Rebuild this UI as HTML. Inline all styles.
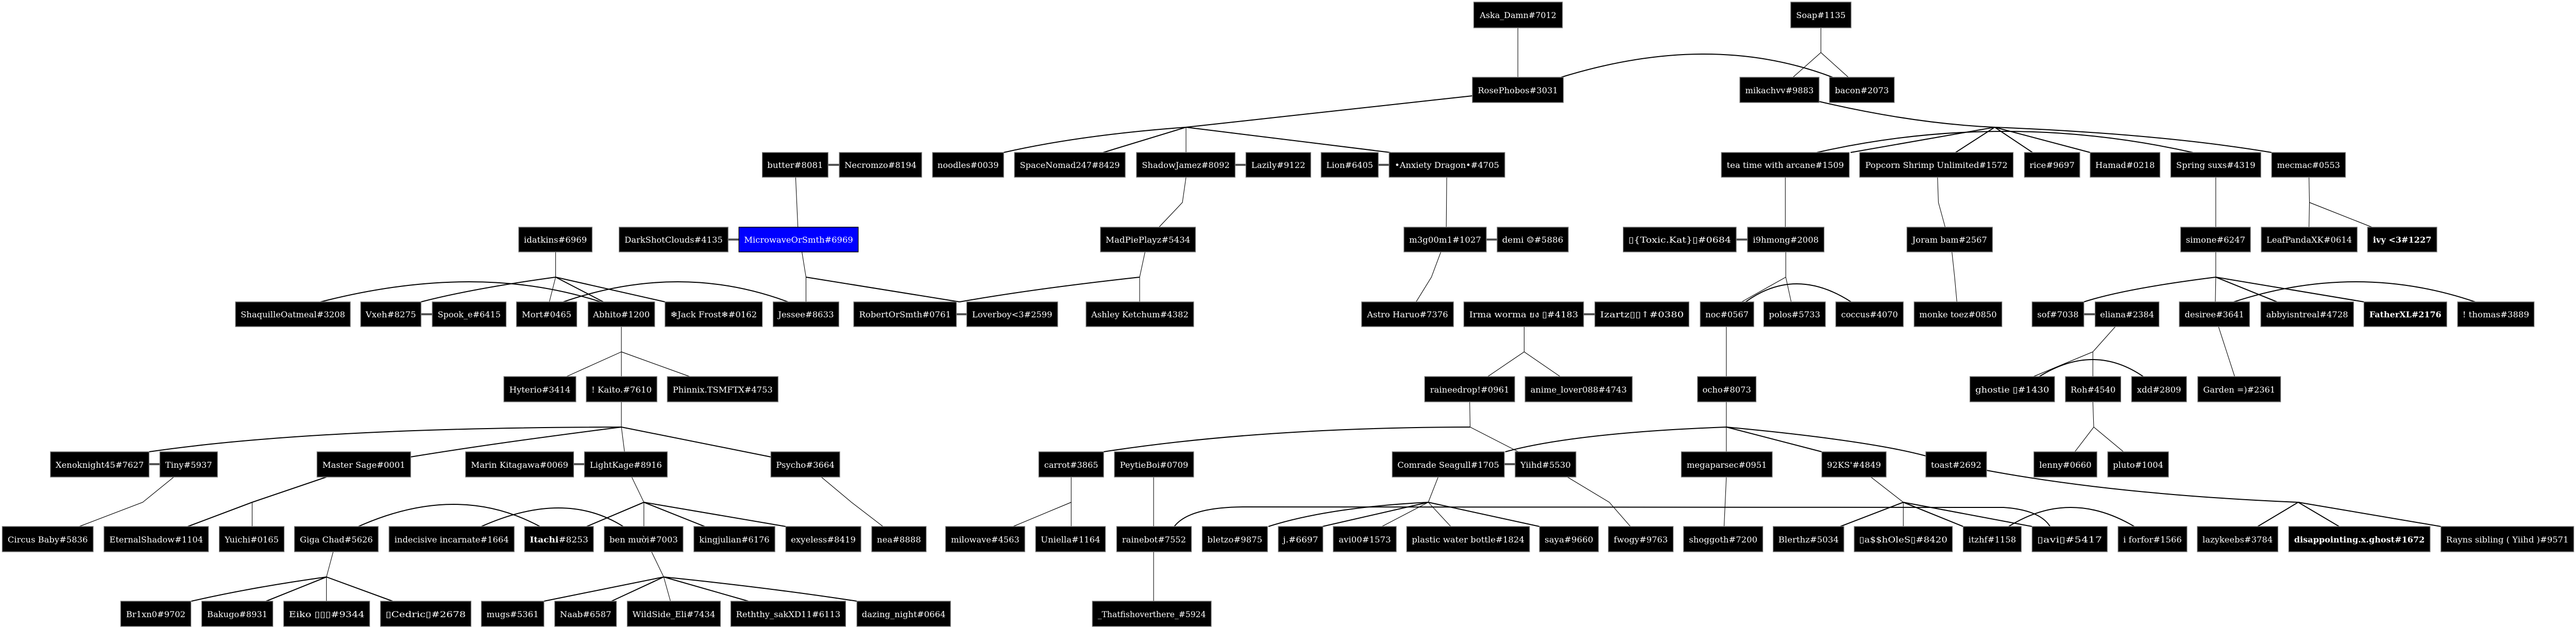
<!DOCTYPE html>
<html><head><meta charset="utf-8"><style>
html,body{margin:0;padding:0;background:#fff;width:100%;height:100%;overflow:hidden;}
svg{display:block;width:100vw;height:100vh;}
text{font-family:"DejaVu Serif","Liberation Serif","Noto Sans CJK SC",serif;font-size:16px;fill:#fff;}
.n{fill:#000;stroke:#777;stroke-width:1.5;}
.b{fill:#0000ff;stroke:#000;stroke-width:1.5;}
.e{fill:none;stroke:#000;stroke-width:2;}
.t{fill:none;stroke:#000;stroke-width:1.2;}
.s{stroke:#555;stroke-width:4;}
</style></head><body>
<svg viewBox="0 0 5721 1221" preserveAspectRatio="none" xmlns="http://www.w3.org/2000/svg">
<path class="t" d="M3371,54 L3371,150"/>
<path class="t" d="M4044,54 L4044,102 L3982,150 M4044,102 L4105,150"/>
<path class="e" d="M3467,150 Q3800,60 4070,150"/>
<path class="e" d="M3270,186 L2634,247 Q2400,262 2229,296 M2634,247 L2450,296 M2634,247 L3088,296"/>
<path class="t" d="M2634,247 L2634,296"/>
<path class="e" d="M4040,197 Q4250,240 4430,247 L4110,296 M4430,247 L4343,296 M4430,247 L4514,296 M4430,247 L4642,296 M4430,247 Q4800,260 5045,296"/>
<path class="e" d="M4035,296 Q4450,214 4870,296"/>
<path class="t" d="M2634,344 L2626,393 L2574,441 M3213,344 L3212,441 M3965,344 L3965,441 M4303,344 L4305,393 L4320,441 M4921,344 L4921,441 M5128,344 L5129,393 L5128,441 M5129,393 L5268,441 M1767,344 L1772,441"/>
<path class="t" d="M1234,489 L1234,538 L1220,586"/>
<path class="e" d="M1234,538 Q1050,560 935,586 M1234,538 L1340,586 M1234,538 L1477,586"/>
<path class="e" d="M712,586 Q1060,508 1334,586 M1251,586 Q1510,508 1750,586"/>
<path class="t" d="M1781,489 L1790,538 L1790,586"/>
<path class="e" d="M1790,538 L2131,586"/>
<path class="t" d="M2543,489 L2531,538 L2531,586"/>
<path class="e" d="M2531,538 Q2300,560 2131,586"/>
<path class="t" d="M3200,489 L3179,538 L3145,586"/>
<path class="t" d="M3966,489 L3966,538 L3868,586 M3966,538 L3978,586"/>
<path class="e" d="M3877,586 Q3987,516 4111,586"/>
<path class="t" d="M4335,489 L4341,538 L4346,586"/>
<path class="t" d="M4921,489 L4921,538 L4920,586"/>
<path class="e" d="M4921,538 Q4720,560 4628,586 M4921,538 L5057,586 M4921,538 L5250,586 M4961,586 Q5235,508 5497,586"/>
<path class="t" d="M1380,634 L1380,683 L1258,731 M1380,683 L1380,731 M1380,683 L1532,731"/>
<path class="t" d="M3385,634 L3385,683 L3304,731 M3385,683 L3465,731"/>
<path class="t" d="M3834,634 L3834,731 M4927,634 L4963,731"/>
<path class="t" d="M4698,634 L4648,683 L4516,731 M4648,683 L4648,731"/>
<path class="e" d="M4529,731 Q4650,665 4760,731"/>
<path class="t" d="M1380,780 L1380,829 L1387,877"/>
<path class="e" d="M1380,829 Q700,830 331,877 M1380,829 Q1100,860 912,887 M1380,829 L1712,887"/>
<path class="t" d="M386,926 L317,975 L176,1022"/>
<path class="e" d="M725,926 L560,975 L417,1022"/>
<path class="t" d="M560,975 L560,1022"/>
<path class="t" d="M1403,926 L1430,975 L1430,1022"/>
<path class="e" d="M1430,975 L1303,1022 M1430,975 L1565,1022 M1430,975 Q1600,1000 1745,1022"/>
<path class="t" d="M1824,926 L1891,975 L1961,1022"/>
<path class="e" d="M796,1022 Q1017,936 1199,1022 M1069,1022 Q1254,950 1384,1022"/>
<path class="t" d="M740,1071 L725,1120 L725,1167"/>
<path class="e" d="M725,1120 Q560,1140 425,1167 M725,1120 L591,1167 M725,1120 L872,1167"/>
<path class="t" d="M1447,1071 L1474,1120 L1489,1167"/>
<path class="e" d="M1474,1120 L1208,1167 M1474,1120 L1358,1167 M1474,1120 L1662,1167 M1474,1120 Q1700,1140 1903,1167"/>
<path class="t" d="M2379,926 L2379,1022 M2379,975 L2250,1022 M2562,926 L2562,1022 M2562,1071 L2562,1167"/>
<path class="t" d="M3264,780 L3265,829 L3372,877"/>
<path class="e" d="M3265,829 Q2800,830 2451,877"/>
<path class="t" d="M3834,780 L3834,877"/>
<path class="e" d="M3834,829 Q3500,840 3343,877 M3834,829 L4046,877 M3834,829 Q4150,855 4277,885"/>
<path class="t" d="M3194,926 L3172,975 L3069,1022 M3172,975 L3222,1022"/>
<path class="e" d="M3172,975 Q2950,985 2817,1022 M3172,975 L2937,1022 M3172,975 L3419,1022"/>
<path class="e" d="M2608,1022 Q2640,985 2760,984 L4450,985 Q4530,990 4553,1022"/>
<path class="t" d="M3481,926 L3574,975 L3621,1022 M3834,926 L3829,1022"/>
<path class="t" d="M4155,926 L4227,975 L4227,1022"/>
<path class="e" d="M4227,975 L4087,1022 M4227,975 L4360,1022 M4227,975 L4513,1022"/>
<path class="e" d="M4461,1022 Q4597,948 4740,1022"/>
<path class="e" d="M4412,913 Q4700,960 5104,975 L5014,1022 M5104,975 L5195,1022 M5104,975 L5421,1022"/>
<path class="t" d="M4648,780 L4650,829 L4608,877 M4650,829 L4716,877"/>
<path class="s" d="M1839,320H1864 M2743,320H2767 M3061,320H3085 M1617,465H1641 M3301,465H3325 M3856,465H3881 M935,610H960 M2124,610H2147 M3517,610H3542 M4628,610H4653 M331,901H355 M1274,901H1298 M3341,901H3365"/>
<g>
<rect class="n" x="3273" y="4" width="197" height="50"/><text x="3371.5" y="35" text-anchor="middle" textLength="170" lengthAdjust="spacingAndGlyphs">Aska_Damn#7012</text>
<rect class="n" x="3977" y="4" width="134" height="50"/><text x="4044" y="35" text-anchor="middle" textLength="110" lengthAdjust="spacingAndGlyphs">Soap#1135</text>

<rect class="n" x="3270" y="150" width="202" height="49"/><text x="3371" y="181" text-anchor="middle" textLength="178" lengthAdjust="spacingAndGlyphs">RosePhobos#3031</text>
<rect class="n" x="3864" y="150" width="176" height="49"/><text x="3952" y="181" text-anchor="middle" textLength="152" lengthAdjust="spacingAndGlyphs">mikachvv#9883</text>
<rect class="n" x="4063" y="150" width="144" height="49"/><text x="4135" y="181" text-anchor="middle" textLength="120" lengthAdjust="spacingAndGlyphs">bacon#2073</text>

<rect class="n" x="1693" y="296" width="146" height="48"/><text x="1766" y="326" text-anchor="middle" textLength="124" lengthAdjust="spacingAndGlyphs">butter#8081</text>
<rect class="n" x="1864" y="296" width="183" height="48"/><text x="1955.5" y="326" text-anchor="middle" textLength="160" lengthAdjust="spacingAndGlyphs">Necromzo#8194</text>
<rect class="n" x="2071" y="296" width="158" height="48"/><text x="2150" y="326" text-anchor="middle" textLength="136" lengthAdjust="spacingAndGlyphs">noodles#0039</text>
<rect class="n" x="2253" y="296" width="246" height="48"/><text x="2376" y="326" text-anchor="middle" textLength="222" lengthAdjust="spacingAndGlyphs">SpaceNomad247#8429</text>
<rect class="n" x="2524" y="296" width="219" height="48"/><text x="2633.5" y="326" text-anchor="middle" textLength="195" lengthAdjust="spacingAndGlyphs">ShadowJamez#8092</text>
<rect class="n" x="2767" y="296" width="144" height="48"/><text x="2839" y="326" text-anchor="middle" textLength="120" lengthAdjust="spacingAndGlyphs">Lazily#9122</text>
<rect class="n" x="2934" y="296" width="127" height="48"/><text x="2997.5" y="326" text-anchor="middle" textLength="104" lengthAdjust="spacingAndGlyphs">Lion#6405</text>
<rect class="n" x="3085" y="296" width="257" height="48"/><text x="3213.5" y="326" text-anchor="middle" textLength="232" lengthAdjust="spacingAndGlyphs">•Anxiety Dragon•#4705</text>
<rect class="n" x="3823" y="296" width="284" height="48"/><text x="3965" y="326" text-anchor="middle" textLength="260" lengthAdjust="spacingAndGlyphs">tea time with arcane#1509</text>
<rect class="n" x="4130" y="296" width="341" height="48"/><text x="4300.5" y="326" text-anchor="middle" textLength="316" lengthAdjust="spacingAndGlyphs">Popcorn Shrimp Unlimited#1572</text>
<rect class="n" x="4496" y="296" width="123" height="48"/><text x="4557.5" y="326" text-anchor="middle" textLength="100" lengthAdjust="spacingAndGlyphs">rice#9697</text>
<rect class="n" x="4642" y="296" width="155" height="48"/><text x="4719.5" y="326" text-anchor="middle" textLength="132" lengthAdjust="spacingAndGlyphs">Hamad#0218</text>
<rect class="n" x="4821" y="296" width="200" height="48"/><text x="4921" y="326" text-anchor="middle" textLength="176" lengthAdjust="spacingAndGlyphs">Spring suxs#4319</text>
<rect class="n" x="5045" y="296" width="164" height="48"/><text x="5127" y="326" text-anchor="middle" textLength="140" lengthAdjust="spacingAndGlyphs">mecmac#0553</text>

<rect class="n" x="1152" y="441" width="163" height="48"/><text x="1233.5" y="471" text-anchor="middle" textLength="140" lengthAdjust="spacingAndGlyphs">idatkins#6969</text>
<rect class="n" x="1375" y="441" width="242" height="48"/><text x="1496" y="471" text-anchor="middle" textLength="218" lengthAdjust="spacingAndGlyphs">DarkShotClouds#4135</text>
<rect class="b" x="1641" y="441" width="265" height="48"/><text x="1773.5" y="471" text-anchor="middle" textLength="242" lengthAdjust="spacingAndGlyphs">MicrowaveOrSmth#6969</text>
<rect class="n" x="2444" y="441" width="211" height="48"/><text x="2549.5" y="471" text-anchor="middle" textLength="188" lengthAdjust="spacingAndGlyphs">MadPiePlayz#5434</text>
<rect class="n" x="3118" y="441" width="183" height="48"/><text x="3209.5" y="471" text-anchor="middle" textLength="160" lengthAdjust="spacingAndGlyphs">m3g00m1#1027</text>
<rect class="n" x="3325" y="441" width="158" height="48"/><text x="3404" y="471" text-anchor="middle" textLength="136" lengthAdjust="spacingAndGlyphs">demi ☺#5886</text>
<rect class="n" x="3605" y="441" width="251" height="48"/><text x="3730.5" y="471" text-anchor="middle" textLength="228" lengthAdjust="spacingAndGlyphs">▯{Toxic.Kat}▯#0684</text>
<rect class="n" x="3881" y="441" width="170" height="48"/><text x="3966" y="471" text-anchor="middle" textLength="146" lengthAdjust="spacingAndGlyphs">i9hmong#2008</text>
<rect class="n" x="4235" y="441" width="190" height="48"/><text x="4330" y="471" text-anchor="middle" textLength="166" lengthAdjust="spacingAndGlyphs">Joram bam#2567</text>
<rect class="n" x="4843" y="441" width="155" height="48"/><text x="4920.5" y="471" text-anchor="middle" textLength="132" lengthAdjust="spacingAndGlyphs">simone#6247</text>
<rect class="n" x="5022" y="441" width="213" height="48"/><text x="5128.5" y="471" text-anchor="middle" textLength="190" lengthAdjust="spacingAndGlyphs">LeafPandaXK#0614</text>
<rect class="n" x="5258" y="441" width="154" height="48"/><text x="5335" y="471" text-anchor="middle" textLength="130" lengthAdjust="spacingAndGlyphs" font-weight="bold">ivy &lt;3#1227</text>

<rect class="n" x="523" y="586" width="255" height="48"/><text x="650.5" y="616" text-anchor="middle" textLength="232" lengthAdjust="spacingAndGlyphs">ShaquilleOatmeal#3208</text>
<rect class="n" x="801" y="586" width="134" height="48"/><text x="868" y="616" text-anchor="middle" textLength="112" lengthAdjust="spacingAndGlyphs">Vxeh#8275</text>
<rect class="n" x="960" y="586" width="164" height="48"/><text x="1042" y="616" text-anchor="middle" textLength="140" lengthAdjust="spacingAndGlyphs">Spook_e#6415</text>
<rect class="n" x="1147" y="586" width="134" height="48"/><text x="1214" y="616" text-anchor="middle" textLength="110" lengthAdjust="spacingAndGlyphs">Mort#0465</text>
<rect class="n" x="1306" y="586" width="148" height="48"/><text x="1380" y="616" text-anchor="middle" textLength="126" lengthAdjust="spacingAndGlyphs">Abhito#1200</text>
<rect class="n" x="1477" y="586" width="216" height="48"/><text x="1585" y="616" text-anchor="middle" textLength="192" lengthAdjust="spacingAndGlyphs">❄Jack Frost❄#0162</text>
<rect class="n" x="1717" y="586" width="146" height="48"/><text x="1790" y="616" text-anchor="middle" textLength="124" lengthAdjust="spacingAndGlyphs">Jessee#8633</text>
<rect class="n" x="1896" y="586" width="228" height="48"/><text x="2010" y="616" text-anchor="middle" textLength="204" lengthAdjust="spacingAndGlyphs">RobertOrSmth#0761</text>
<rect class="n" x="2147" y="586" width="202" height="48"/><text x="2248" y="616" text-anchor="middle" textLength="178" lengthAdjust="spacingAndGlyphs">Loverboy&lt;3#2599</text>
<rect class="n" x="2412" y="586" width="239" height="48"/><text x="2531.5" y="616" text-anchor="middle" textLength="216" lengthAdjust="spacingAndGlyphs">Ashley Ketchum#4382</text>
<rect class="n" x="3024" y="586" width="204" height="48"/><text x="3126" y="616" text-anchor="middle" textLength="180" lengthAdjust="spacingAndGlyphs">Astro Haruo#7376</text>
<rect class="n" x="3251" y="586" width="266" height="48"/><text x="3384" y="616" text-anchor="middle" textLength="242" lengthAdjust="spacingAndGlyphs">Irma worma ยง ▯#4183</text>
<rect class="n" x="3542" y="586" width="209" height="48"/><text x="3646.5" y="616" text-anchor="middle" textLength="186" lengthAdjust="spacingAndGlyphs">Izartz▯▯↑#0380</text>
<rect class="n" x="3776" y="586" width="119" height="48"/><text x="3835.5" y="616" text-anchor="middle" textLength="96" lengthAdjust="spacingAndGlyphs">noc#0567</text>
<rect class="n" x="3917" y="586" width="137" height="48"/><text x="3985.5" y="616" text-anchor="middle" textLength="114" lengthAdjust="spacingAndGlyphs">polos#5733</text>
<rect class="n" x="4077" y="586" width="150" height="48"/><text x="4152" y="616" text-anchor="middle" textLength="126" lengthAdjust="spacingAndGlyphs">coccus#4070</text>
<rect class="n" x="4251" y="586" width="195" height="48"/><text x="4348.5" y="616" text-anchor="middle" textLength="172" lengthAdjust="spacingAndGlyphs">monke toez#0850</text>
<rect class="n" x="4513" y="586" width="115" height="48"/><text x="4570.5" y="616" text-anchor="middle" textLength="92" lengthAdjust="spacingAndGlyphs">sof#7038</text>
<rect class="n" x="4653" y="586" width="142" height="48"/><text x="4724" y="616" text-anchor="middle" textLength="120" lengthAdjust="spacingAndGlyphs">eliana#2384</text>
<rect class="n" x="4840" y="586" width="156" height="48"/><text x="4918" y="616" text-anchor="middle" textLength="132" lengthAdjust="spacingAndGlyphs">desiree#3641</text>
<rect class="n" x="5021" y="586" width="206" height="48"/><text x="5124" y="616" text-anchor="middle" textLength="182" lengthAdjust="spacingAndGlyphs">abbyisntreal#4728</text>
<rect class="n" x="5250" y="586" width="184" height="48"/><text x="5342" y="616" text-anchor="middle" textLength="160" lengthAdjust="spacingAndGlyphs" font-weight="bold">FatherXL#2176</text>
<rect class="n" x="5458" y="586" width="170" height="48"/><text x="5543" y="616" text-anchor="middle" textLength="148" lengthAdjust="spacingAndGlyphs">! thomas#3889</text>

<rect class="n" x="1119" y="731" width="160" height="49"/><text x="1199" y="762" text-anchor="middle" textLength="136" lengthAdjust="spacingAndGlyphs">Hyterio#3414</text>
<rect class="n" x="1302" y="731" width="157" height="49"/><text x="1380.5" y="762" text-anchor="middle" textLength="134" lengthAdjust="spacingAndGlyphs">! Kaito.#7610</text>
<rect class="n" x="1482" y="731" width="246" height="49"/><text x="1605" y="762" text-anchor="middle" textLength="222" lengthAdjust="spacingAndGlyphs">Phinnix.TSMFTX#4753</text>
<rect class="n" x="3164" y="731" width="200" height="49"/><text x="3264" y="762" text-anchor="middle" textLength="176" lengthAdjust="spacingAndGlyphs">raineedrop!#0961</text>
<rect class="n" x="3387" y="731" width="238" height="49"/><text x="3506" y="762" text-anchor="middle" textLength="214" lengthAdjust="spacingAndGlyphs">anime_lover088#4743</text>
<rect class="n" x="3770" y="731" width="130" height="49"/><text x="3835" y="762" text-anchor="middle" textLength="108" lengthAdjust="spacingAndGlyphs">ocho#8073</text>
<rect class="n" x="4375" y="731" width="188" height="49"/><text x="4469" y="762" text-anchor="middle" textLength="164" lengthAdjust="spacingAndGlyphs">ghostie ▯#1430</text>
<rect class="n" x="4587" y="731" width="123" height="49"/><text x="4648.5" y="762" text-anchor="middle" textLength="100" lengthAdjust="spacingAndGlyphs">Roh#4540</text>
<rect class="n" x="4734" y="731" width="122" height="49"/><text x="4795" y="762" text-anchor="middle" textLength="98" lengthAdjust="spacingAndGlyphs">xdd#2809</text>
<rect class="n" x="4881" y="731" width="184" height="49"/><text x="4973" y="762" text-anchor="middle" textLength="160" lengthAdjust="spacingAndGlyphs">Garden =)#2361</text>

<rect class="n" x="112" y="877" width="219" height="49"/><text x="221.5" y="908" text-anchor="middle" textLength="196" lengthAdjust="spacingAndGlyphs">Xenoknight45#7627</text>
<rect class="n" x="355" y="877" width="128" height="49"/><text x="419" y="908" text-anchor="middle" textLength="104" lengthAdjust="spacingAndGlyphs">Tiny#5937</text>
<rect class="n" x="704" y="877" width="208" height="49"/><text x="808" y="908" text-anchor="middle" textLength="184" lengthAdjust="spacingAndGlyphs">Master Sage#0001</text>
<rect class="n" x="1034" y="877" width="240" height="49"/><text x="1154" y="908" text-anchor="middle" textLength="216" lengthAdjust="spacingAndGlyphs">Marin Kitagawa#0069</text>
<rect class="n" x="1298" y="877" width="184" height="49"/><text x="1390" y="908" text-anchor="middle" textLength="160" lengthAdjust="spacingAndGlyphs">LightKage#8916</text>
<rect class="n" x="1712" y="877" width="153" height="49"/><text x="1788.5" y="908" text-anchor="middle" textLength="130" lengthAdjust="spacingAndGlyphs">Psycho#3664</text>
<rect class="n" x="2307" y="877" width="144" height="49"/><text x="2379" y="908" text-anchor="middle" textLength="120" lengthAdjust="spacingAndGlyphs">carrot#3865</text>
<rect class="n" x="2475" y="877" width="176" height="49"/><text x="2563" y="908" text-anchor="middle" textLength="152" lengthAdjust="spacingAndGlyphs">PeytieBoi#0709</text>
<rect class="n" x="3092" y="877" width="249" height="49"/><text x="3216.5" y="908" text-anchor="middle" textLength="226" lengthAdjust="spacingAndGlyphs">Comrade Seagull#1705</text>
<rect class="n" x="3365" y="877" width="135" height="49"/><text x="3432.5" y="908" text-anchor="middle" textLength="112" lengthAdjust="spacingAndGlyphs">Yiihd#5530</text>
<rect class="n" x="3734" y="877" width="202" height="49"/><text x="3835" y="908" text-anchor="middle" textLength="178" lengthAdjust="spacingAndGlyphs">megaparsec#0951</text>
<rect class="n" x="4046" y="877" width="143" height="49"/><text x="4117.5" y="908" text-anchor="middle" textLength="120" lengthAdjust="spacingAndGlyphs">92KS'#4849</text>
<rect class="n" x="4277" y="877" width="135" height="49"/><text x="4344.5" y="908" text-anchor="middle" textLength="112" lengthAdjust="spacingAndGlyphs">toast#2692</text>
<rect class="n" x="4517" y="877" width="140" height="49"/><text x="4587" y="908" text-anchor="middle" textLength="116" lengthAdjust="spacingAndGlyphs">lenny#0660</text>
<rect class="n" x="4681" y="877" width="135" height="49"/><text x="4748.5" y="908" text-anchor="middle" textLength="112" lengthAdjust="spacingAndGlyphs">pluto#1004</text>

<rect class="n" x="5" y="1022" width="202" height="49"/><text x="106" y="1053" text-anchor="middle" textLength="178" lengthAdjust="spacingAndGlyphs">Circus Baby#5836</text>
<rect class="n" x="231" y="1022" width="232" height="49"/><text x="347" y="1053" text-anchor="middle" textLength="208" lengthAdjust="spacingAndGlyphs">EternalShadow#1104</text>
<rect class="n" x="487" y="1022" width="144" height="49"/><text x="559" y="1053" text-anchor="middle" textLength="120" lengthAdjust="spacingAndGlyphs">Yuichi#0165</text>
<rect class="n" x="654" y="1022" width="186" height="49"/><text x="747" y="1053" text-anchor="middle" textLength="162" lengthAdjust="spacingAndGlyphs">Giga Chad#5626</text>
<rect class="n" x="864" y="1022" width="278" height="49"/><text x="1003" y="1053" text-anchor="middle" textLength="254" lengthAdjust="spacingAndGlyphs">indecisive incarnate#1664</text>
<rect class="n" x="1165" y="1022" width="153" height="49"/><text x="1241.5" y="1053" text-anchor="middle" textLength="130" lengthAdjust="spacingAndGlyphs"><tspan font-weight="bold">Itachi</tspan>#8253</text>
<rect class="n" x="1342" y="1022" width="175" height="49"/><text x="1429.5" y="1053" text-anchor="middle" textLength="152" lengthAdjust="spacingAndGlyphs">ben mười#7003</text>
<rect class="n" x="1541" y="1022" width="180" height="49"/><text x="1631" y="1053" text-anchor="middle" textLength="156" lengthAdjust="spacingAndGlyphs">kingjulian#6176</text>
<rect class="n" x="1745" y="1022" width="167" height="49"/><text x="1828.5" y="1053" text-anchor="middle" textLength="144" lengthAdjust="spacingAndGlyphs">exyeless#8419</text>
<rect class="n" x="1936" y="1022" width="121" height="49"/><text x="1996.5" y="1053" text-anchor="middle" textLength="98" lengthAdjust="spacingAndGlyphs">nea#8888</text>
<rect class="n" x="2100" y="1022" width="176" height="49"/><text x="2188" y="1053" text-anchor="middle" textLength="152" lengthAdjust="spacingAndGlyphs">milowave#4563</text>
<rect class="n" x="2300" y="1022" width="155" height="49"/><text x="2377.5" y="1053" text-anchor="middle" textLength="132" lengthAdjust="spacingAndGlyphs">Uniella#1164</text>
<rect class="n" x="2480" y="1022" width="166" height="49"/><text x="2563" y="1053" text-anchor="middle" textLength="142" lengthAdjust="spacingAndGlyphs">rainebot#7552</text>
<rect class="n" x="2670" y="1022" width="145" height="49"/><text x="2742.5" y="1053" text-anchor="middle" textLength="122" lengthAdjust="spacingAndGlyphs">bletzo#9875</text>
<rect class="n" x="2839" y="1022" width="99" height="49"/><text x="2888.5" y="1053" text-anchor="middle" textLength="78" lengthAdjust="spacingAndGlyphs">j.#6697</text>
<rect class="n" x="2961" y="1022" width="140" height="49"/><text x="3031" y="1053" text-anchor="middle" textLength="116" lengthAdjust="spacingAndGlyphs">avi00#1573</text>
<rect class="n" x="3124" y="1022" width="273" height="49"/><text x="3260.5" y="1053" text-anchor="middle" textLength="250" lengthAdjust="spacingAndGlyphs">plastic water bottle#1824</text>
<rect class="n" x="3419" y="1022" width="131" height="49"/><text x="3484.5" y="1053" text-anchor="middle" textLength="108" lengthAdjust="spacingAndGlyphs">saya#9660</text>
<rect class="n" x="3572" y="1022" width="144" height="49"/><text x="3644" y="1053" text-anchor="middle" textLength="120" lengthAdjust="spacingAndGlyphs">fwogy#9763</text>
<rect class="n" x="3739" y="1022" width="176" height="49"/><text x="3827" y="1053" text-anchor="middle" textLength="152" lengthAdjust="spacingAndGlyphs">shoggoth#7200</text>
<rect class="n" x="3938" y="1022" width="157" height="49"/><text x="4016.5" y="1053" text-anchor="middle" textLength="134" lengthAdjust="spacingAndGlyphs">Blerthz#5034</text>
<rect class="n" x="4118" y="1022" width="218" height="49"/><text x="4227" y="1053" text-anchor="middle" textLength="196" lengthAdjust="spacingAndGlyphs">▯a$$hOleS▯#8420</text>
<rect class="n" x="4360" y="1022" width="129" height="49"/><text x="4424.5" y="1053" text-anchor="middle" textLength="106" lengthAdjust="spacingAndGlyphs">itzhf#1158</text>
<rect class="n" x="4513" y="1022" width="167" height="49"/><text x="4596.5" y="1053" text-anchor="middle" textLength="144" lengthAdjust="spacingAndGlyphs">▯avi▯#5417</text>
<rect class="n" x="4704" y="1022" width="153" height="49"/><text x="4780.5" y="1053" text-anchor="middle" textLength="130" lengthAdjust="spacingAndGlyphs">i forfor#1566</text>
<rect class="n" x="4880" y="1022" width="179" height="49"/><text x="4969.5" y="1053" text-anchor="middle" textLength="156" lengthAdjust="spacingAndGlyphs">lazykeebs#3784</text>
<rect class="n" x="5083" y="1022" width="314" height="49"/><text x="5240" y="1053" text-anchor="middle" textLength="290" lengthAdjust="spacingAndGlyphs" font-weight="bold">disappointing.x.ghost#1672</text>
<rect class="n" x="5421" y="1022" width="295" height="49"/><text x="5568.5" y="1053" text-anchor="middle" textLength="272" lengthAdjust="spacingAndGlyphs">Rayns sibling ( Yiihd )#9571</text>

<rect class="n" x="268" y="1167" width="156" height="49"/><text x="346" y="1198" text-anchor="middle" textLength="132" lengthAdjust="spacingAndGlyphs">Br1xn0#9702</text>
<rect class="n" x="448" y="1167" width="158" height="49"/><text x="527" y="1198" text-anchor="middle" textLength="134" lengthAdjust="spacingAndGlyphs">Bakugo#8931</text>
<rect class="n" x="630" y="1167" width="191" height="49"/><text x="725.5" y="1198" text-anchor="middle" textLength="168" lengthAdjust="spacingAndGlyphs">Eiko ▯▯▯#9344</text>
<rect class="n" x="845" y="1167" width="201" height="49"/><text x="945.5" y="1198" text-anchor="middle" textLength="178" lengthAdjust="spacingAndGlyphs">▯Cedric▯#2678</text>
<rect class="n" x="1069" y="1167" width="139" height="49"/><text x="1138.5" y="1198" text-anchor="middle" textLength="116" lengthAdjust="spacingAndGlyphs">mugs#5361</text>
<rect class="n" x="1232" y="1167" width="137" height="49"/><text x="1300.5" y="1198" text-anchor="middle" textLength="114" lengthAdjust="spacingAndGlyphs">Naab#6587</text>
<rect class="n" x="1393" y="1167" width="207" height="49"/><text x="1496.5" y="1198" text-anchor="middle" textLength="184" lengthAdjust="spacingAndGlyphs">WildSide_Eli#7434</text>
<rect class="n" x="1623" y="1167" width="255" height="49"/><text x="1750.5" y="1198" text-anchor="middle" textLength="232" lengthAdjust="spacingAndGlyphs">Reththy_sakXD11#6113</text>
<rect class="n" x="1903" y="1167" width="208" height="49"/><text x="2007" y="1198" text-anchor="middle" textLength="186" lengthAdjust="spacingAndGlyphs">dazing_night#0664</text>
<rect class="n" x="2426" y="1167" width="264" height="49"/><text x="2558" y="1198" text-anchor="middle" textLength="240" lengthAdjust="spacingAndGlyphs">_Thatfishoverthere_#5924</text>
</g>
</svg>
</body></html>
